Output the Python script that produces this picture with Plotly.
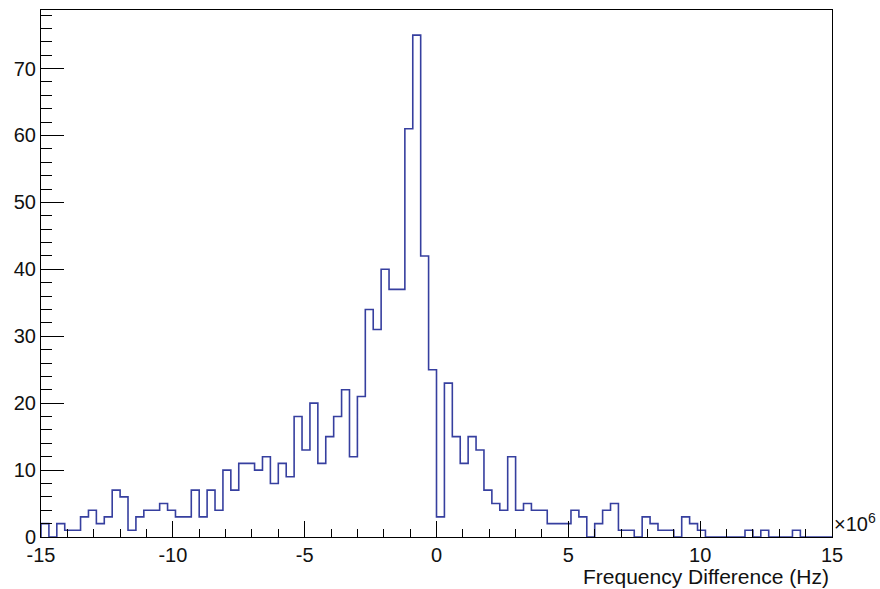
import numpy as np
import plotly.graph_objects as go

# Histogram definition (x in units of 10^6 Hz)
x_low = -15.0
x_high = 15.0
n_bins = 100

counts = [
    2, 0, 2, 1, 1, 3, 4, 2, 3, 7, 6, 1, 3, 4, 4, 5, 4, 3, 3, 7, 3, 7, 4, 10, 7,
    11, 11, 10, 12, 8, 11, 9, 18, 13, 20, 11, 15, 18, 22, 12, 21, 34, 31, 40, 37, 37, 61, 75, 42, 25,
    3, 23, 15, 11, 15, 13, 7, 5, 4, 12, 4, 5, 4, 4, 2, 2, 2, 4, 3, 0, 2, 4, 5, 1, 1,
    0, 3, 2, 1, 1, 0, 3, 2, 1, 0, 0, 0, 0, 0, 1, 0, 1, 0, 0, 0, 1, 0, 0, 0, 0,
]

x_ticks = [-15, -10, -5, 0, 5, 10, 15]
y_ticks = [0, 10, 20, 30, 40, 50, 60, 70]
x_title = "Frequency Difference (Hz)"
x_exponent = "×10<sup>6</sup>"

edges = np.linspace(x_low, x_high, n_bins + 1)
xs = [edges[0]] + list(edges) + [edges[-1]]
ys = [0] + list(counts) + [counts[-1], 0]

ymax = max(counts) * 1.05

FONT = "Liberation Sans, Arial, Helvetica, sans-serif"

fig = go.Figure()
fig.add_trace(go.Scatter(
    x=xs, y=ys, mode="lines", line_shape="hv",
    line=dict(color="#363f9f", width=1.6),
    showlegend=False, hoverinfo="skip",
))

fig.update_layout(
    width=880, height=589,
    margin=dict(l=41, r=48, t=10, b=52),
    paper_bgcolor="white", plot_bgcolor="white",
    font=dict(family=FONT, size=20, color="#111111"),
    xaxis=dict(
        range=[x_low, x_high], tickmode="array", tickvals=x_ticks,
        ticktext=[str(v) for v in x_ticks],
        ticks="inside", ticklen=16, tickwidth=1, tickcolor="black",
        minor=dict(ticks="inside", dtick=1, ticklen=8, tickcolor="black", tickwidth=1),
        showline=True, linecolor="black", linewidth=1, mirror=True,
        showgrid=False, zeroline=False,
    ),
    yaxis=dict(
        range=[0, ymax], tickmode="array", tickvals=y_ticks,
        ticktext=[str(v) for v in y_ticks],
        ticks="inside", ticklen=23, tickwidth=1, tickcolor="black",
        minor=dict(ticks="inside", dtick=2, ticklen=11, tickcolor="black", tickwidth=1),
        showline=True, linecolor="black", linewidth=1, mirror=True,
        showgrid=False, zeroline=False,
    ),
    annotations=[
        dict(text=x_title, xref="paper", yref="paper", x=1, y=0,
             xanchor="right", yanchor="top", yshift=-26, xshift=-1,
             showarrow=False, font=dict(family=FONT, size=21, color="#111111")),
        dict(text=x_exponent, xref="paper", yref="paper", x=1, y=0,
             xanchor="left", yanchor="bottom", xshift=0, yshift=0,
             showarrow=False, font=dict(family=FONT, size=20, color="#111111")),
    ],
)

fig.write_html("out.html")
